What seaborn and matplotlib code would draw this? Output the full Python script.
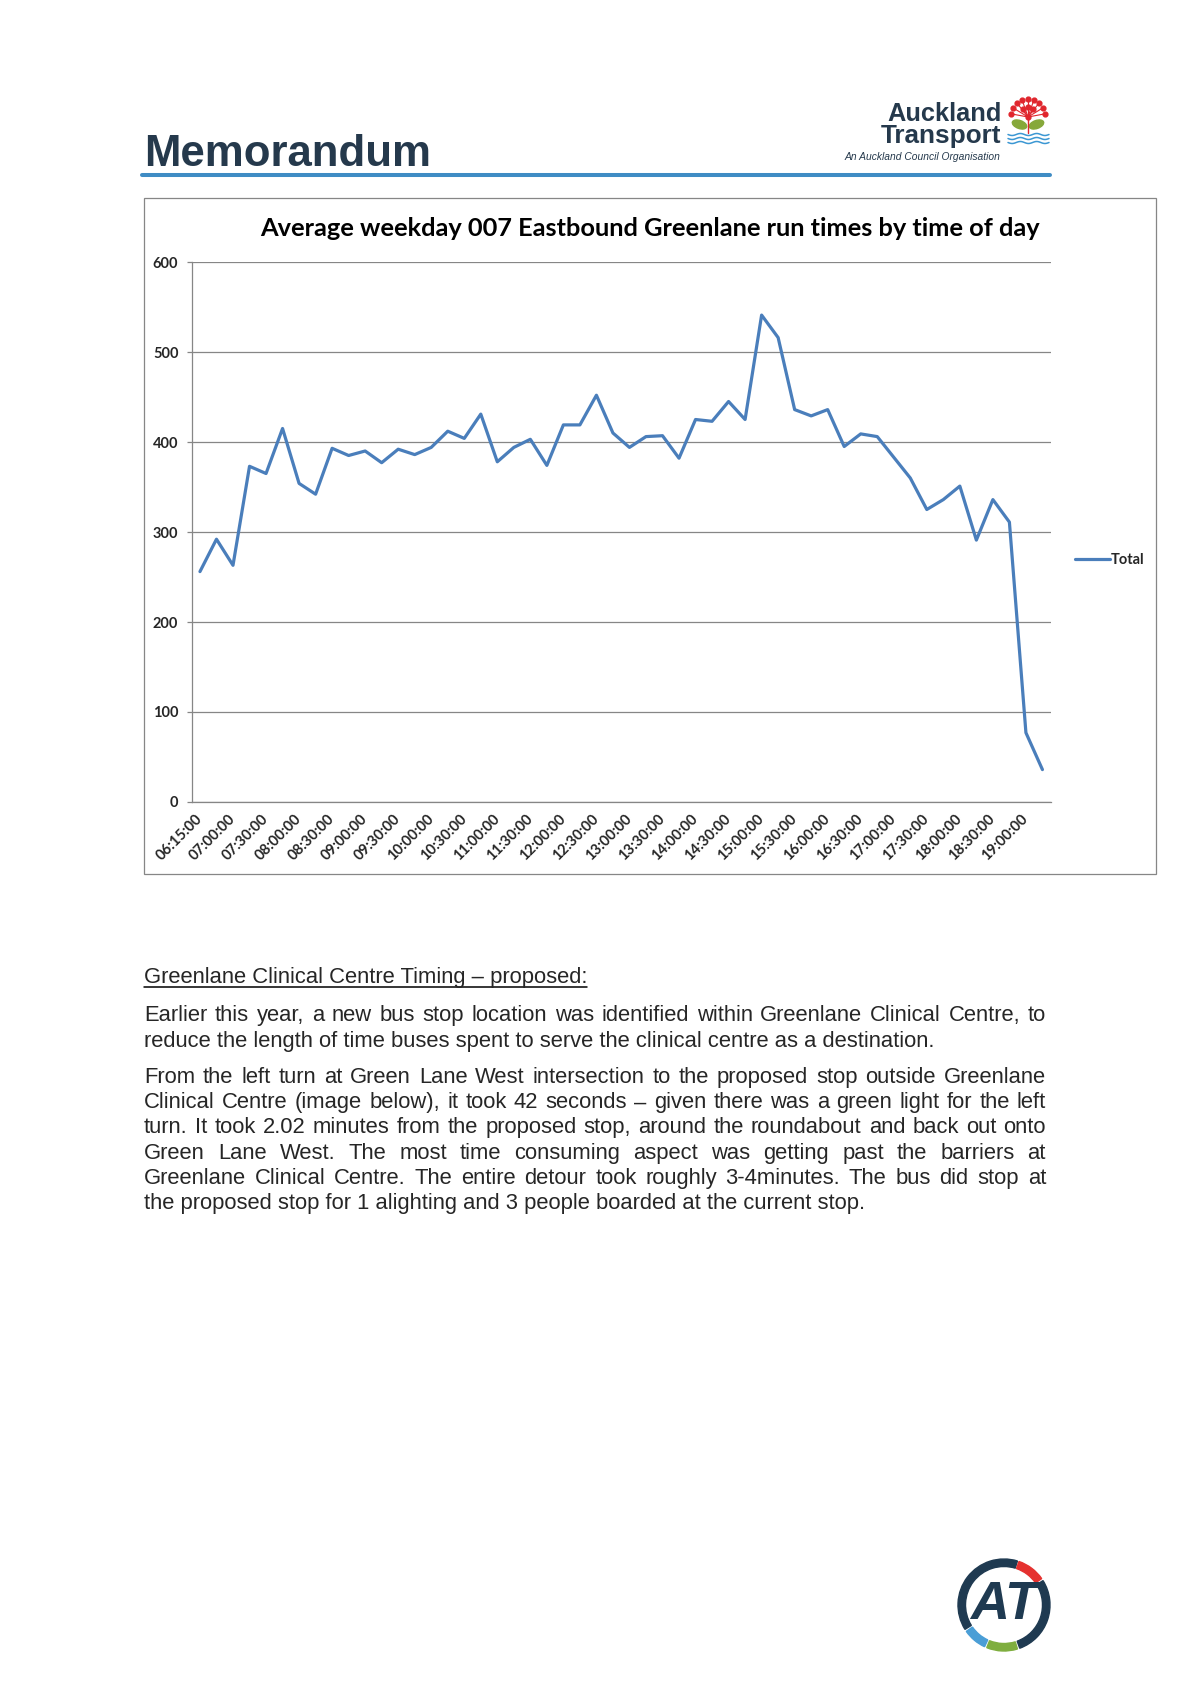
import numpy as np
import pandas as pd
import seaborn as sns
import matplotlib.pyplot as plt
from matplotlib.lines import Line2D
from matplotlib.patches import Rectangle, Wedge, Ellipse

# ---- chart data ----
times = ['06:15:00', '06:45:00', '07:00:00', '07:15:00', '07:30:00', '07:45:00',
         '08:00:00', '08:15:00', '08:30:00', '08:45:00', '09:00:00', '09:15:00',
         '09:30:00', '09:45:00', '10:00:00', '10:15:00', '10:30:00', '10:45:00',
         '11:00:00', '11:15:00', '11:30:00', '11:45:00', '12:00:00', '12:15:00',
         '12:30:00', '12:45:00', '13:00:00', '13:15:00', '13:30:00', '13:45:00',
         '14:00:00', '14:15:00', '14:30:00', '14:45:00', '15:00:00', '15:15:00',
         '15:30:00', '15:45:00', '16:00:00', '16:15:00', '16:30:00', '16:45:00',
         '17:00:00', '17:15:00', '17:30:00', '17:45:00', '18:00:00', '18:15:00',
         '18:30:00', '18:45:00', '19:00:00', '19:15:00']
run_times = [256, 292, 263, 373, 365, 415, 354, 342, 393, 385, 390, 377,
             392, 386, 394, 412, 404, 431, 378, 394, 403, 374, 419, 419,
             452, 410, 394, 406, 407, 382, 425, 423, 445, 425, 541, 516,
             436, 429, 436, 395, 409, 406, 383, 360, 325, 336, 351, 291,
             336, 311, 77, 36]
y_ticks = [0, 100, 200, 300, 400, 500, 600]
series_name = 'Total'
chart_title = 'Average weekday 007 Eastbound Greenlane run times by time of day'

# ---- memo text ----
heading = 'Greenlane Clinical Centre Timing \u2013 proposed:'
para1 = ['Earlier this year, a new bus stop location was identified within Greenlane Clinical Centre, to',
         'reduce the length of time buses spent to serve the clinical centre as a destination.']
para2 = ['From the left turn at Green Lane West intersection to the proposed stop outside Greenlane',
         'Clinical Centre (image below), it took 42 seconds \u2013 given there was a green light for the left',
         'turn. It took 2.02 minutes from the proposed stop, around the roundabout and back out onto',
         'Green Lane West. The most time consuming aspect was getting past the barriers at',
         'Greenlane Clinical Centre. The entire detour took roughly 3-4minutes. The bus did stop at',
         'the proposed stop for 1 alighting and 3 people boarded at the current stop.']

W, H = 1190, 1684
sns.set_style('white')
plt.rcParams['font.family'] = ['Lato', 'DejaVu Sans']
arial = ['Liberation Sans', 'DejaVu Sans']
narrow = ['Liberation Sans Narrow', 'Liberation Sans', 'DejaVu Sans']
navy = '#25394c'
grey = '#868686'

fig = plt.figure(figsize=(W / 100, H / 100), dpi=100)
fig.patch.set_facecolor('white')
renderer = fig.canvas.get_renderer()


def fx(px):
    return px / W


def fy(py):
    return 1 - py / H


def fit(t, width):
    w = t.get_window_extent(renderer).width
    t.set_fontsize(t.get_fontsize() * width / w)


# header
t = fig.text(fx(144), fy(166), 'Memorandum', family=arial, weight='bold',
             color=navy, fontsize=40, va='baseline')
fit(t, 287)
fig.add_artist(Line2D([fx(142), fx(1050)], [fy(174.5)] * 2, color='#3f8cc4', lw=2.9))

t = fig.text(fx(887), fy(121), 'Auckland', family=narrow, weight='bold',
             color=navy, fontsize=20, va='baseline')
fit(t, 114)
t = fig.text(fx(881), fy(143), 'Transport', family=narrow, weight='bold',
             color=navy, fontsize=20, va='baseline')
fit(t, 120)
t = fig.text(fx(844), fy(160), 'An Auckland Council Organisation', family=arial,
             style='italic', color=navy, fontsize=7, va='baseline')
fit(t, 156)

# pohutukawa icon
icon = fig.add_axes([fx(1005), fy(147), 46 / W, 55 / H])
icon.set_xlim(1005, 1051)
icon.set_ylim(147, 92)
icon.axis('off')
cx, cy = 1028, 117
ang = np.radians([10, 30, 50, 70, 90, 110, 130, 150, 170])
ox, oy = cx + 17 * np.cos(ang), cy - 18 * np.sin(ang)
ang2 = np.radians([55, 90, 125])
ix, iy = cx + 9 * np.cos(ang2), cy - 10 * np.sin(ang2)
for px_, py_ in zip(np.r_[ox, ix], np.r_[oy, iy]):
    icon.plot([cx, px_], [cy, py_], color='#e0262d', lw=0.8)
icon.scatter(np.r_[ox, ix, cx], np.r_[oy, iy, cy], s=12, color='#e0262d', zorder=3)
icon.plot([cx, cx], [cy, 133], color='#e0262d', lw=1)
icon.add_patch(Ellipse((1019.5, 124.5), 15, 8, angle=20, color='#86a83a'))
icon.add_patch(Ellipse((1036.5, 124.5), 15, 8, angle=-20, color='#86a83a'))
wx = np.linspace(1008, 1049, 60)
for wy in [134.5, 138.5, 142.5]:
    icon.plot(wx, wy + 1.0 * np.sin((wx - 1008) / 41 * 5 * np.pi), color='#3b97d3', lw=1.1)

# chart frame and title
fig.add_artist(Rectangle((fx(144), fy(874)), (1156 - 144) / W, (874 - 198) / H,
                         fill=False, ec=grey, lw=0.9))
t = fig.text(fx(650), fy(228), chart_title, ha='center', va='center',
             weight='bold', color='black', fontsize=17)
fit(t, 784)

# chart
ax = fig.add_axes([fx(191.7), fy(802), (1050.7 - 191.7) / W, (802 - 262) / H])
df = pd.DataFrame({'time': times, 'run_time': run_times})
sns.lineplot(data=df, x='time', y='run_time', ax=ax, color='#4a7ebb',
             linewidth=2.3, label=series_name)
ax.set_xlim(-0.5, len(times) - 0.5)
ax.set_ylim(0, 600)
ax.set_yticks(y_ticks)
ax.set_xticks(range(0, len(times), 2))
ax.set_xticklabels(times[::2], rotation=45, ha='right', va='center',
                   rotation_mode='anchor', fontsize=10.5, weight='bold')
ax.set_yticklabels([str(v) for v in y_ticks], fontsize=10.5, weight='bold')
ax.set_xticks(np.arange(-0.5, len(times), 1), minor=True)
ax.tick_params(axis='x', which='major', length=0, pad=11)
ax.tick_params(axis='x', which='minor', length=3.6, color=grey, width=0.9, direction='out')
ax.tick_params(axis='y', length=3.6, color=grey, width=0.9, pad=6,
               left=True, direction='out')
ax.yaxis.grid(True, color=grey, lw=0.9)
ax.xaxis.grid(False)
ax.set_axisbelow(True)
for s in ['top', 'right']:
    ax.spines[s].set_visible(False)
for s in ['left', 'bottom']:
    ax.spines[s].set_color(grey)
    ax.spines[s].set_linewidth(0.9)
ax.set_xlabel('')
ax.set_ylabel('')
ax.legend(loc='center left', bbox_to_anchor=((1075 - 191.7) / 859, (802 - 560) / 540),
          frameon=False, borderaxespad=0, borderpad=0, handlelength=2.4,
          handletextpad=0.05, prop={'size': 10.5, 'weight': 'bold'})

# body text
body_size = 15.8


def put_line(text, y, justify):
    if not justify:
        fig.text(fx(144), fy(y), text, family=arial, fontsize=body_size, va='baseline')
        return
    words = text.split(' ')
    arts = [fig.text(0, fy(y), w, family=arial, fontsize=body_size, va='baseline') for w in words]
    widths = [a.get_window_extent(renderer).width for a in arts]
    gap = (1046 - 144 - sum(widths)) / (len(words) - 1)
    x = 144
    for a, w in zip(arts, widths):
        a.set_x(fx(x))
        x += w + gap


h = fig.text(fx(144), fy(983), heading, family=arial, fontsize=body_size, va='baseline')
hw = h.get_window_extent(renderer).width
fig.add_artist(Line2D([fx(144), fx(144 + hw)], [fy(986.5)] * 2, color='black', lw=1.1))

for i, line in enumerate(para1):
    put_line(line, 1021 + 25.5 * i, i < len(para1) - 1)
for i, line in enumerate(para2):
    put_line(line, 1083 + 25.2 * i, i < len(para2) - 1)

# AT logo
at = fig.add_axes([fx(954), fy(1655), 100 / W, 100 / H])
at.set_xlim(-50, 50)
at.set_ylim(-50, 50)
at.axis('off')
for a0, a1, c in [(73, 212, '#1f3a51'), (215, 245, '#4a9ed6'), (248, 287, '#7fae3f'),
                  (290, 392, '#1f3a51'), (35, 71, '#e5312f')]:
    at.add_patch(Wedge((0, 0), 46, a0, a1, width=7.5, color=c))
t = at.text(0, 0, 'AT', ha='center', va='center', family=arial, weight='bold',
            style='italic', color='#1f3a51', fontsize=37)
fit(t, 68)

fig.savefig('out.png', dpi=100, facecolor='white')
